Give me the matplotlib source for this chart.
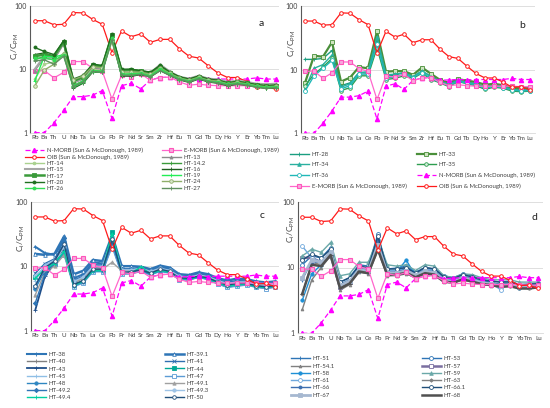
import matplotlib
matplotlib.use('Agg')
import matplotlib.pyplot as plt
from matplotlib.ticker import FixedLocator, NullLocator, FixedFormatter
from matplotlib.patches import Rectangle

plt.rcParams['font.family'] = ['Lato', 'DejaVu Sans']

W, H = 550, 408

elements = ['Rb', 'Ba', 'Th', 'U', 'Nb', 'Ta', 'La', 'Ce', 'Pb', 'Pr', 'Nd', 'Sr', 'Sm',
            'Zr', 'Hf', 'Eu', 'Ti', 'Gd', 'Tb', 'Dy', 'Ho', 'Y', 'Er', 'Yb', 'Tm', 'Lu']

# reference compositions (primitive-mantle normalised)
n_morb = [1.0, 1.0, 1.44, 2.25, 3.7, 3.7, 3.9, 4.6, 1.68, 5.5, 6.0, 4.9, 6.8, 7.4, 7.5,
          6.8, 6.9, 7.0, 6.9, 7.0, 7.0, 7.0, 7.0, 7.3, 7.0, 7.0]
e_morb = [9.4, 9.5, 7.3, 8.9, 13.2, 13.2, 10.4, 9.4, 3.4, 8.0, 7.6, 8.4, 6.7, 7.4, 7.5,
          6.3, 5.6, 5.8, 5.6, 5.5, 5.5, 5.5, 5.5, 5.5, 5.4, 5.4]
oib = [58, 58, 50, 51, 78, 77, 61, 51, 18.3, 40, 32.5, 36, 26.5, 29.5, 29.5,
       21, 16, 15, 11.3, 8.7, 7.4, 7.4, 6.4, 5.3, 5.4, 4.8]

# panel a samples
ht13 = [9.5, 15, 14, 25, 6.0, 7.0, 10.5, 10.0, 30, 9.5, 9.5, 9.0, 8.5, 11.5, 9.0, 7.5, 7.0, 7.8, 7.0, 6.8, 6.2, 6.5, 6.2, 5.8, 5.7, 5.8]
ht14 = [7.0, 12, 13, 18, 6.5, 7.2, 10.0, 9.5, 27, 8.5, 8.8, 8.8, 8.0, 10.0, 8.5, 7.2, 6.6, 7.4, 6.6, 6.4, 5.9, 6.2, 5.9, 5.5, 5.3, 5.4]
ht14_2 = [14, 16, 15, 26, 5.5, 6.5, 9.5, 9.2, 32, 8.0, 8.2, 8.5, 7.8, 10.0, 8.2, 7.0, 6.3, 7.2, 6.4, 6.2, 5.6, 5.9, 5.7, 5.3, 5.1, 5.2]
ht15 = [10, 16, 15, 27, 6.2, 7.2, 11, 10.5, 33, 9.8, 9.7, 9.3, 8.8, 11.8, 9.2, 7.6, 7.1, 7.9, 7.1, 6.9, 6.3, 6.6, 6.3, 5.9, 5.8, 5.9]
ht16 = [17, 18, 16, 28, 5.0, 6.0, 9.0, 9.0, 35, 7.8, 7.8, 8.2, 7.6, 9.5, 8.0, 6.8, 6.2, 7.0, 6.3, 6.0, 5.5, 5.8, 5.6, 5.2, 5.0, 5.1]
ht17 = [16, 17, 16, 27, 6.5, 7.5, 11.5, 11, 34, 9.5, 9.8, 9.3, 8.7, 11.0, 8.8, 7.4, 6.8, 7.6, 6.8, 6.6, 6.0, 6.3, 6.0, 5.6, 5.4, 5.5]
ht19 = [6.5, 16, 15.5, 17, 5.2, 6.2, 9.3, 9.0, 30, 8.0, 8.0, 8.5, 7.8, 9.8, 8.1, 7.0, 6.4, 7.2, 6.5, 6.2, 5.7, 6.0, 5.7, 5.3, 5.1, 5.2]
ht20 = [22, 19, 17, 28, 7.0, 8.0, 12, 11.5, 36, 10, 10, 9.5, 9.0, 11.5, 9.0, 7.6, 7.0, 7.8, 7.0, 6.7, 6.1, 6.4, 6.1, 5.7, 5.5, 5.6]
ht24 = [5.4, 9.7, 12, 17.5, 6.8, 7.8, 11, 10.5, 28, 9.0, 9.0, 9.0, 8.3, 10.5, 8.6, 7.3, 6.7, 7.5, 6.7, 6.5, 5.9, 6.2, 5.9, 5.5, 5.3, 5.4]
ht26 = [15, 15, 14, 16.5, 5.5, 6.5, 9.5, 9.3, 31, 8.3, 8.5, 8.6, 7.9, 10.2, 8.3, 7.1, 6.5, 7.3, 6.5, 6.3, 5.8, 6.0, 5.8, 5.4, 5.2, 5.3]
ht27 = [13.5, 14, 12, 16, 5.3, 6.3, 9.2, 9.0, 29, 8.0, 8.0, 8.3, 7.6, 9.5, 8.0, 6.9, 6.3, 7.1, 6.4, 6.1, 5.6, 5.9, 5.6, 5.2, 5.0, 5.1]

# panel b samples
ht28 = [14.5, 14.5, 15, 20, 5.6, 6.2, 9.0, 8.8, 30, 8.0, 8.2, 9.0, 7.8, 9.5, 7.8, 6.6, 6.0, 6.8, 6.4, 6.0, 5.4, 5.8, 5.5, 5.0, 4.9, 5.0]
ht33 = [6.2, 16.5, 16, 27, 6.5, 7.5, 11, 10.5, 40, 9.3, 9.5, 9.5, 8.3, 10.8, 8.6, 6.9, 6.2, 7.1, 6.7, 6.4, 5.8, 6.0, 5.7, 5.2, 5.1, 5.2]
ht34 = [5.0, 10.5, 12, 17, 5.3, 6.0, 9.0, 9.3, 33, 8.3, 8.5, 9.0, 7.8, 9.5, 7.8, 6.6, 5.9, 6.8, 6.3, 6.0, 5.3, 5.7, 5.4, 4.9, 4.7, 4.9]
ht35 = [5.5, 8.5, 11, 15, 4.7, 5.2, 8.0, 8.0, 22, 7.0, 7.3, 8.0, 7.3, 8.8, 7.0, 6.2, 5.4, 6.5, 6.0, 5.6, 4.9, 5.3, 5.1, 4.6, 4.5, 4.6]
ht36 = [4.6, 8.0, 10.5, 14, 5.0, 5.6, 8.5, 8.5, 25, 7.5, 7.6, 8.5, 7.5, 9.0, 7.3, 6.3, 5.6, 6.6, 6.1, 5.8, 5.1, 5.5, 5.2, 4.8, 4.6, 4.7]

# panel c samples
ht38 = [20, 16, 15, 25, 6.5, 7.5, 11.5, 11, 28, 9.0, 9.0, 9.5, 8.5, 9.5, 9.0, 7.0, 6.8, 7.5, 7.0, 6.0, 5.5, 5.8, 5.8, 5.3, 5.2, 5.4]
ht39_1 = [15.5, 15, 15.5, 29, 7.5, 8.5, 12.5, 12, 30, 10, 10, 9.8, 9.0, 10.2, 9.5, 7.5, 7.3, 8.0, 7.5, 6.5, 6.0, 6.4, 6.3, 5.8, 5.6, 5.8]
ht40 = [6.5, 10, 12, 20, 5.5, 6.5, 9.5, 9.5, 26, 8.5, 8.5, 9.0, 8.0, 9.0, 8.5, 6.8, 6.6, 7.2, 6.8, 5.8, 5.3, 5.6, 5.6, 5.1, 5.0, 5.2]
ht41 = [7.8, 11, 13, 22, 6.0, 7.0, 10.5, 10, 25, 8.8, 8.8, 9.2, 8.3, 9.5, 8.8, 7.0, 7.0, 7.4, 7.0, 6.0, 5.4, 5.7, 5.7, 5.2, 5.1, 5.3]
ht43 = [2.1, 7.0, 11, 18, 5.0, 5.8, 8.5, 8.5, 22, 7.8, 7.8, 8.5, 7.5, 8.5, 8.0, 6.3, 6.2, 6.8, 6.3, 5.4, 4.8, 5.0, 5.2, 4.8, 4.6, 4.8]
ht44 = [6.8, 9.5, 11.5, 16, 5.2, 6.0, 8.8, 9.0, 34, 8.0, 8.0, 9.5, 7.8, 8.8, 8.2, 6.5, 6.4, 7.0, 6.5, 5.6, 5.0, 5.3, 5.4, 4.9, 4.8, 5.0]
ht45 = [6.0, 10.5, 12.5, 17, 5.8, 6.8, 9.8, 9.8, 28, 8.5, 8.6, 9.0, 8.0, 9.2, 8.5, 6.8, 6.7, 7.2, 6.8, 5.9, 5.3, 5.6, 5.6, 5.1, 5.0, 5.2]
ht47 = [4.8, 9.0, 11, 15, 4.8, 5.5, 8.2, 8.2, 20, 7.5, 7.6, 8.3, 7.3, 8.3, 7.8, 6.2, 6.1, 6.7, 6.2, 5.3, 4.7, 4.9, 5.1, 4.7, 4.5, 4.7]
ht48 = [4.5, 8.5, 10.5, 16, 5.0, 5.7, 8.5, 8.5, 24, 7.8, 7.8, 8.5, 7.5, 8.5, 8.0, 6.4, 6.3, 6.8, 6.4, 5.5, 4.9, 5.2, 5.3, 4.9, 4.7, 4.9]
ht49_1 = [3.6, 8.0, 10, 15, 5.5, 6.5, 9.0, 9.0, 11.5, 8.5, 8.5, 9.0, 8.0, 9.0, 8.3, 6.6, 6.6, 7.1, 6.7, 5.8, 5.2, 5.5, 5.5, 5.0, 4.9, 5.1]
ht49_2 = [2.7, 7.5, 11.5, 27, 6.0, 7.0, 10.5, 10.5, 25, 9.0, 9.0, 9.3, 8.3, 9.8, 9.0, 7.2, 7.1, 7.6, 7.2, 6.2, 5.6, 6.0, 5.9, 5.4, 5.3, 5.5]
ht49_3 = [7.0, 10, 12, 20, 5.8, 6.8, 10, 10, 27, 8.8, 8.8, 9.3, 8.3, 9.3, 8.6, 7.0, 6.8, 7.3, 6.9, 6.0, 5.4, 5.7, 5.7, 5.2, 5.1, 5.3]
ht49_4 = [6.5, 9.0, 11, 17, 5.0, 5.8, 8.5, 8.5, 32, 7.8, 7.8, 9.8, 7.6, 8.6, 8.0, 6.4, 6.3, 6.9, 6.4, 5.5, 4.9, 5.1, 5.3, 4.8, 4.7, 4.9]
ht50 = [5.0, 9.5, 12, 22, 5.2, 6.0, 9.0, 9.0, 26, 8.0, 8.2, 8.8, 7.8, 9.0, 8.3, 6.6, 6.5, 7.0, 6.6, 5.7, 5.1, 5.4, 5.4, 5.0, 4.8, 5.0]

# panel d samples
ht51 = [6.5, 13, 12, 18, 5.5, 6.5, 10, 9.5, 25, 9.0, 9.0, 10, 8.0, 9.5, 9.0, 7.0, 6.5, 7.5, 7.0, 6.2, 6.0, 5.5, 5.8, 5.0, 5.2, 5.5]
ht53 = [11, 15, 14, 20, 6.0, 7.0, 11, 10.5, 32, 9.5, 9.8, 10.5, 8.5, 10, 9.5, 7.5, 7.0, 8.0, 7.5, 6.5, 6.3, 6.0, 6.2, 5.5, 5.6, 5.8]
ht54_1 = [2.3, 6.5, 10, 15, 4.5, 5.5, 8.5, 8.0, 18, 7.5, 7.5, 8.0, 7.0, 8.0, 7.5, 6.0, 5.8, 6.5, 6.0, 5.5, 5.3, 5.0, 5.2, 4.8, 4.8, 5.0]
ht57 = [14, 14, 12, 15, 5.0, 6.0, 9.5, 9.0, 20, 8.0, 8.0, 8.5, 7.5, 8.5, 8.0, 6.3, 6.0, 6.8, 6.3, 5.7, 5.5, 5.3, 5.4, 5.0, 5.0, 5.2]
ht58 = [3.2, 8.0, 11, 17, 5.2, 6.0, 9.0, 8.5, 22, 8.0, 8.5, 13, 7.5, 9.0, 8.5, 6.5, 6.2, 7.0, 6.5, 5.8, 5.6, 5.2, 5.5, 4.8, 5.0, 5.2]
ht59 = [15, 19, 17, 24, 7.5, 8.0, 12, 12, 28, 11, 10.5, 11, 9.0, 11, 10.5, 7.5, 7.0, 8.0, 7.8, 7.0, 6.5, 6.5, 6.5, 6.0, 6.0, 6.0]
ht61 = [21, 14, 12, 16, 5.5, 6.5, 10, 9.5, 24, 9.0, 9.0, 9.5, 8.0, 9.5, 9.0, 7.0, 6.5, 7.5, 7.0, 6.0, 5.8, 4.6, 5.8, 5.2, 5.2, 5.5]
ht63 = [4.0, 12, 11, 16, 5.0, 5.8, 9.0, 8.5, 21, 8.0, 8.0, 8.8, 7.3, 8.5, 8.0, 6.2, 6.0, 6.8, 6.3, 5.7, 5.5, 5.2, 5.3, 4.9, 4.9, 5.1]
ht66 = [6.8, 12, 12, 17, 5.5, 6.3, 9.5, 9.0, 26, 8.5, 8.5, 9.5, 7.8, 9.0, 8.5, 6.8, 6.3, 7.2, 6.8, 6.0, 5.7, 5.5, 5.6, 5.0, 5.1, 5.3]
ht66_1 = [13, 16, 14, 19, 6.0, 7.0, 10.5, 10, 30, 9.5, 9.5, 10, 8.2, 10, 9.5, 7.2, 6.8, 7.8, 7.2, 6.5, 6.2, 6.0, 6.0, 5.5, 5.5, 5.7]
ht67 = [7.0, 13, 12, 17, 5.3, 6.2, 9.3, 8.8, 22, 8.2, 8.2, 9.0, 7.6, 8.8, 8.3, 6.5, 6.1, 7.0, 6.5, 5.9, 5.6, 5.3, 5.5, 5.0, 5.0, 5.2]
ht68 = [4.0, 11, 10.5, 15.5, 4.8, 5.7, 8.7, 8.2, 19, 7.7, 7.8, 8.3, 7.1, 8.2, 7.8, 6.1, 5.9, 6.6, 6.1, 5.6, 5.4, 5.1, 5.2, 4.8, 4.8, 5.0]

REF_N = ('N-MORB (Sun & McDonough, 1989)', n_morb,
         dict(color='#ff00ff', ls=(0, (4, 2)), lw=0.9, marker='^', ms=3, mfc='#ff00ff', mec='#ff00ff'))
REF_E = ('E-MORB (Sun & McDonough, 1989)', e_morb,
         dict(color='#ff66cc', lw=0.9, marker='s', ms=3.2, mfc='#f7a8dc', mec='#ff55bb', mew=0.8))
REF_O = ('OIB (Sun & McDonough, 1989)', oib,
         dict(color='#ff1a1a', lw=0.9, marker='o', ms=2.6, mfc='white', mec='#ff1a1a', mew=0.7))


def st(color, marker='None', ms=2.4, lw=1.0, mfc=None, mew=0.6):
    return dict(color=color, lw=lw, marker=marker, ms=ms,
                mfc=(mfc if mfc is not None else color), mec=color, mew=mew)


panel_a = [REF_N, REF_E, REF_O,
           ('HT-13', ht13, st('#8c8c8c', '^', 2.2)),
           ('HT-14', ht14, st('#a9d18e', 'o', 2.0)),
           ('HT-14.2', ht14_2, st('#3a9a3a', '+', 2.8)),
           ('HT-15', ht15, st('#a6a6a6', lw=1.5)),
           ('HT-16', ht16, st('#1e5e1e', '+', 2.8)),
           ('HT-17', ht17, st('#3a9a3a', 's', 2.4, lw=1.8)),
           ('HT-19', ht19, st('#22ee55', '+', 2.8)),
           ('HT-20', ht20, st('#1f6f1f', 'o', 2.2)),
           ('HT-24', ht24, st('#8fae6a', 'o', 2.6, mfc='#d8e8c8')),
           ('HT-26', ht26, st('#33dd55', 'o', 2.2)),
           ('HT-27', ht27, st('#5f8f5f', '+', 2.8))]

panel_b = [('HT-28', ht28, st('#1a9e80', '+', 2.8)),
           ('HT-33', ht33, st('#4a8f3a', 's', 2.8, lw=1.6, mfc='#cfe5c0')),
           ('HT-34', ht34, st('#2ab0a0', '^', 2.6)),
           ('HT-35', ht35, st('#2e9e50', 'o', 2.6, mfc='#d8f0dc')),
           ('HT-36', ht36, st('#20b8b8', 'o', 2.8, mfc='white')),
           REF_N, REF_E, REF_O]

panel_c = [('HT-38', ht38, st('#2e75b6', '+', 2.8, lw=1.5)),
           ('HT-39.1', ht39_1, st('#2e75b6', '^', 2.6, lw=1.8, mfc='white')),
           ('HT-40', ht40, st('#808080', '+', 2.8)),
           ('HT-41', ht41, st('#2f6fb0', 'x', 2.4)),
           ('HT-43', ht43, st('#1f4e89', '+', 2.8, lw=1.3)),
           ('HT-44', ht44, st('#00a896', 's', 2.2)),
           ('HT-45', ht45, st('#8fbfe6', '+', 2.8)),
           ('HT-47', ht47, st('#5b9bd5', 's', 2.6, mfc='white')),
           ('HT-48', ht48, st('#2e86c1', 'o', 2.4)),
           ('HT-49.1', ht49_1, st('#a0a0a0', '^', 2.4)),
           ('HT-49.2', ht49_2, st('#2e75b6', 'D', 2.2)),
           ('HT-49.3', ht49_3, st('#9dc3e6', 'o', 2.4)),
           ('HT-49.4', ht49_4, st('#00d0a0', '+', 2.8)),
           ('HT-50', ht50, st('#1f4e79', 'o', 2.6, mfc='white')),
           REF_N, REF_E, REF_O]

panel_d = [('HT-51', ht51, st('#2e75b6', '+', 2.8)),
           ('HT-53', ht53, st('#2e75b6', 'o', 2.8, mfc='white')),
           ('HT-54.1', ht54_1, st('#808080', '^', 2.0)),
           ('HT-57', ht57, st('#7a6fa0', 's', 2.8, lw=1.8, mfc='white')),
           ('HT-58', ht58, st('#1e90d6', 'o', 2.4)),
           ('HT-59', ht59, st('#6aa8a8', '^', 2.6)),
           ('HT-61', ht61, st('#6fa8dc', 'o', 2.8, mfc='white')),
           ('HT-63', ht63, st('#808080', 'D', 1.8)),
           ('HT-66', ht66, st('#3d6fb0', 'o', 2.2)),
           ('HT-66.1', ht66_1, st('#1f4e79', 'o', 2.8, mfc='white')),
           ('HT-67', ht67, st('#a6b8d0', 's', 2.6, lw=2.0)),
           ('HT-68', ht68, st('#505050', '_', 3.0, lw=1.8)),
           REF_N, REF_E, REF_O]

fig = plt.figure(figsize=(W / 100, H / 100), dpi=100)


def px_axes(l, r, t, b):
    return fig.add_axes([l / W, 1 - b / H, (r - l) / W, (b - t) / H])


def draw_panel(ax, series, legend_items):
    handles = {}
    x = list(range(len(elements)))
    for name, vals, kw in series:
        ln, = ax.plot(x, vals, label=name, **kw)
        handles[name] = ln
    ax.set_yscale('log')
    ax.set_ylim(1, 100)
    ax.set_xlim(-0.5, len(elements) - 0.5)
    ax.set_xticks(x)
    ax.set_xticklabels(elements, fontsize=4.5, color='#404040')
    ax.yaxis.set_major_locator(FixedLocator([1, 10, 100]))
    ax.yaxis.set_major_formatter(FixedFormatter(['1', '10', '100']))
    ax.yaxis.set_minor_locator(NullLocator())
    ax.tick_params(axis='both', length=0, pad=2)
    ax.tick_params(axis='y', labelsize=5, labelcolor='#404040')
    for s in ['top', 'right']:
        ax.spines[s].set_visible(False)
    ax.spines['bottom'].set_color('#d9d9d9')
    ax.spines['bottom'].set_linewidth(0.6)
    ax.spines['left'].set_color('#595959')
    ax.spines['left'].set_linewidth(0.8)
    ax.grid(axis='y', color='#d9d9d9', lw=0.6)
    ax.set_axisbelow(True)
    return handles


def add_legends(handles, names, x1, x2, ytop, spacing):
    col1 = names[0::2]
    col2 = names[1::2]
    for col, xx in ((col1, x1), (col2, x2)):
        leg = fig.legend([handles[n] for n in col], col, loc='upper left',
                         bbox_to_anchor=(xx / W, 1 - ytop / H), frameon=False,
                         fontsize=4.3, handlelength=3.3, handletextpad=0.4,
                         borderpad=0, borderaxespad=0, labelspacing=spacing,
                         numpoints=1)
        for t in leg.get_texts():
            t.set_color('#404040')


ylabel = r'C$_\mathregular{i}$/C$_\mathregular{PM}$'

# panel a
ax_a = px_axes(29.9, 280.7, 5.7, 132.7)
h_a = draw_panel(ax_a, panel_a, None)
add_legends(h_a, [s[0] for s in panel_a], 24.6, 161.6, 147.9, 0.17)

# panel c
ax_c = px_axes(30.5, 280.1, 201.7, 330.7)
h_c = draw_panel(ax_c, panel_c, None)
add_legends(h_c, [s[0] for s in panel_c[:14]], 26.6, 164.6, 352.2, 0.32)

# cover for the right-hand panels
fig.add_artist(Rectangle((279 / W, 0), 1 - 279 / W, 1, transform=fig.transFigure,
                         facecolor='white', edgecolor='none', zorder=0.5))

# panel b
ax_b = px_axes(300.5, 534.5, 6.0, 133.3)
ax_b.set_zorder(1)
h_b = draw_panel(ax_b, panel_b, None)
add_legends(h_b, [s[0] for s in panel_b], 289.6, 416.6, 151.5, 0.9)

# panel d
ax_d = px_axes(297.6, 543.0, 201.7, 333.3)
ax_d.set_zorder(1)
h_d = draw_panel(ax_d, panel_d, None)
add_legends(h_d, [s[0] for s in panel_d[:12]], 290.6, 421.6, 356.2, 0.35)

# y labels and panel letters
for (xx, yy) in ((15, 46), (292, 43), (21.7, 238), (291.5, 229)):
    fig.text(xx / W, 1 - yy / H, ylabel, rotation=90, ha='center', va='center',
             fontsize=6, color='#404040', zorder=3)
for letter, (xx, yy) in zip('abcd', ((261, 23), (521.7, 25), (262, 215), (534, 218))):
    fig.text(xx / W, 1 - yy / H, letter, ha='center', va='center', fontsize=7.5,
             color='#202020', zorder=3)

fig.savefig('out.png', dpi=100)
